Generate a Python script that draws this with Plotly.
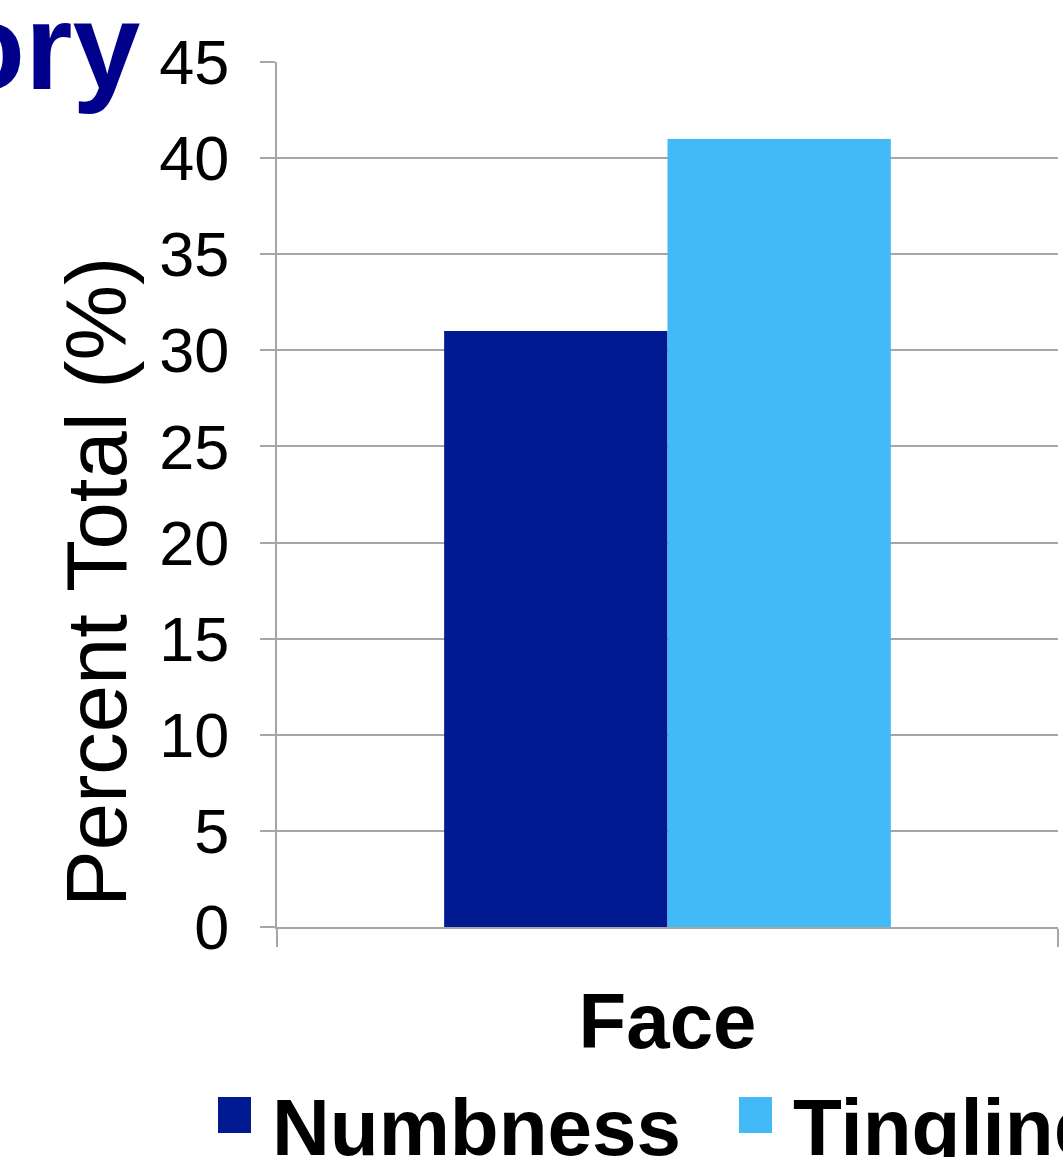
import plotly.graph_objects as go

# Data
categories = ["Face"]
series_names = ["Numbness", "Tingling"]
numbness = [31]
tingling = [41]
series_values = [numbness, tingling]
series_colors = ["#021A91", "#42BAF8"]
y_ticks = [0, 5, 10, 15, 20, 25, 30, 35, 40, 45]

W, H = 1063, 1157
ML, MR, MT, MB = 277, 5, 62, 230
PW, PH = W - ML - MR, H - MT - MB

FONT = "Liberation Sans, Arial, Helvetica, sans-serif"
GRID = "#A6A6A6"


def px_x(px):
    return (px - ML) / PW


def px_y(py):
    return (H - MB - py) / PH


fig = go.Figure()
for name, vals, col in zip(series_names, series_values, series_colors):
    fig.add_trace(go.Bar(x=categories, y=vals, name=name, marker_color=col,
                         marker_line_width=0, showlegend=False))

annotations = [
    # slide heading, running off the left edge
    dict(text="<b>Sensory</b>", xref="paper", yref="paper",
         x=px_x(143), y=px_y(47), xanchor="right", yanchor="middle",
         showarrow=False, font=dict(family=FONT, size=122, color="#00008B")),
    # y axis title
    dict(text="Percent Total (%)", xref="paper", yref="paper",
         x=px_x(97), y=px_y(582), xanchor="center", yanchor="middle",
         textangle=-90, showarrow=False,
         font=dict(family=FONT, size=85, color="black")),
]

# legend row below the axis
legend_x = [(218, 270), (739, 791)]
shapes = []
for (sq_x, tx_x), name, col in zip(legend_x, series_names, series_colors):
    shapes.append(dict(type="rect", xref="paper", yref="paper",
                       x0=px_x(sq_x), x1=px_x(sq_x + 33),
                       y0=px_y(1133), y1=px_y(1097),
                       fillcolor=col, line_width=0))
    annotations.append(dict(text=f"<b>{name}</b>", xref="paper", yref="paper",
                            x=px_x(tx_x), y=px_y(1127), xanchor="left",
                            yanchor="middle", showarrow=False,
                            font=dict(family=FONT, size=80, color="black")))

fig.update_layout(
    width=W, height=H,
    margin=dict(l=ML, r=MR, t=MT, b=MB, autoexpand=False),
    plot_bgcolor="white", paper_bgcolor="white",
    barmode="group", bargap=0.428, bargroupgap=0,
    showlegend=False,
    annotations=annotations,
    shapes=shapes,
    xaxis=dict(
        range=[-0.5, 0.5], showgrid=False,
        showline=True, linecolor=GRID, linewidth=2,
        ticks="outside", tickson="boundaries", ticklen=18,
        tickcolor=GRID, tickwidth=2,
        tickfont=dict(family=FONT, size=78, color="black", weight="bold"),
        ticklabelstandoff=25,
    ),
    yaxis=dict(
        range=[0, 45], tickvals=y_ticks, ticktext=[str(v) for v in y_ticks],
        showgrid=True, gridcolor=GRID, gridwidth=2,
        showline=True, linecolor=GRID, linewidth=2,
        zeroline=False,
        ticks="outside", ticklen=15, tickcolor=GRID, tickwidth=2,
        tickfont=dict(family=FONT, size=63, color="black"),
        ticklabelstandoff=18,
    ),
)

fig.write_html("out.html")
